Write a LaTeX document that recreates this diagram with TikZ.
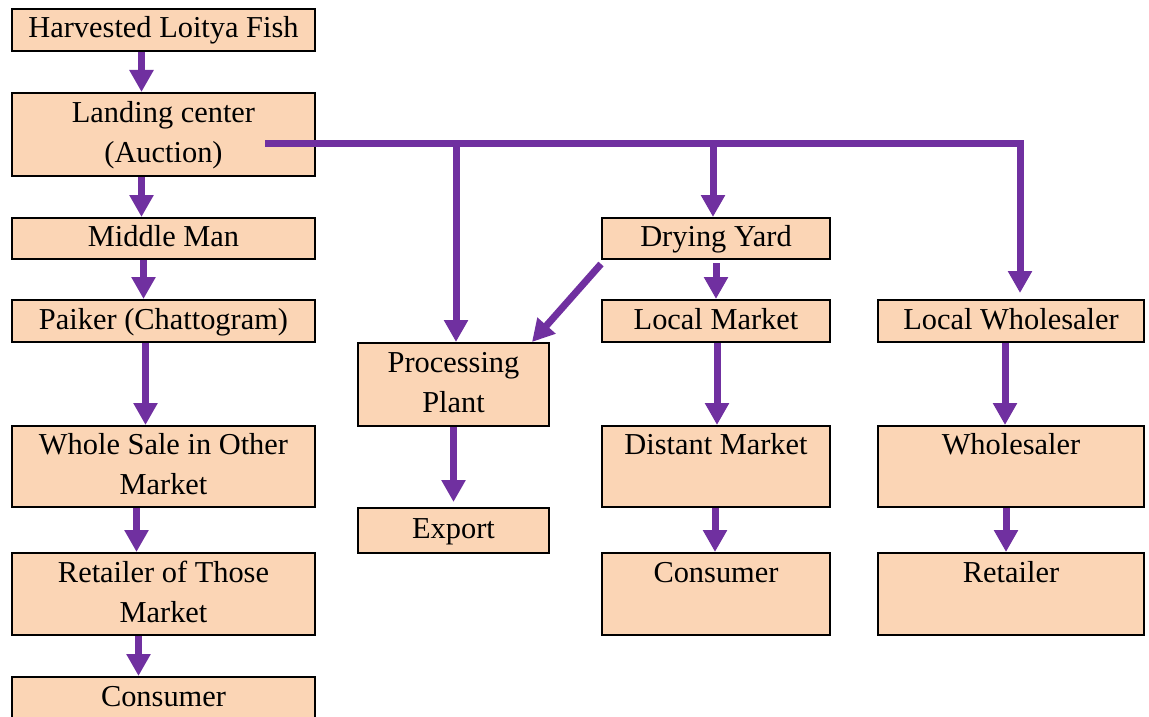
\documentclass[tikz,border=0pt]{standalone}
\usepackage{fontspec}
\setmainfont{Liberation Serif}
\usetikzlibrary{arrows.meta}
\definecolor{boxfill}{HTML}{FBD5B5}
\definecolor{flowpurple}{HTML}{7030A0}
\begin{document}
\begin{tikzpicture}[x=1pt,y=-1pt,
  box/.style={draw=black,line width=2pt,fill=boxfill,anchor=north west,
    inner sep=0pt,align=center,font=\fontsize{30.4}{40}\selectfont},
  colA/.style={minimum width=303pt},
  colB/.style={minimum width=191pt},
  colC/.style={minimum width=228pt},
  colD/.style={minimum width=266pt},
  flow/.style={draw=flowpurple,line width=7pt,
    -{Triangle[width=23pt,length=22pt]}},
  trunk/.style={draw=flowpurple,line width=7pt,line cap=butt}]
\useasboundingbox (0,0) rectangle (1149,717);
\fill[white] (0,0) rectangle (1149,717);

% left column: main chain
\node[box,colA,minimum height=42pt] (h)  at (11,8)   {\strut Harvested Loitya Fish};
\node[box,colA,minimum height=83pt] (l)  at (11,92)  {\strut Landing center\\\strut (Auction)};
\node[box,colA,minimum height=41pt] (mm) at (11,217) {\strut Middle Man};
\node[box,colA,minimum height=42pt] (pk) at (11,299) {\strut Paiker (Chattogram)};
\node[box,colA,minimum height=81pt] (ws) at (11,425) {\strut Whole Sale in Other\\\strut Market};
\node[box,colA,minimum height=82pt] (ro) at (11,552) {\strut Retailer of Those\\\strut Market};
\node[box,colA,minimum height=82pt] (c1) at (11,676) {\strut Consumer\\\strut};

% processing branch
\node[box,colB,minimum height=83pt] (pp) at (357,342) {\strut Processing\\\strut Plant};
\node[box,colB,minimum height=45pt] (ex) at (357,507) {\strut Export};

% drying branch
\node[box,colC,minimum height=41pt] (dy) at (601,217) {\strut Drying Yard};
\node[box,colC,minimum height=42pt] (lm) at (601,299) {\strut Local Market};
\node[box,colC,minimum height=81pt] (dm) at (601,425) {\strut Distant Market\\\strut};
\node[box,colC,minimum height=82pt] (c2) at (601,552) {\strut Consumer\\\strut};

% wholesale branch
\node[box,colD,minimum height=42pt] (lw) at (877,299) {\strut Local Wholesaler};
\node[box,colD,minimum height=81pt] (wh) at (877,425) {\strut Wholesaler\\\strut};
\node[box,colD,minimum height=82pt] (rt) at (877,552) {\strut Retailer\\\strut};

% main chain arrows
\draw[flow] ([xshift=-22pt]h.south)  -- ([xshift=-22pt]l.north);
\draw[flow] ([xshift=-22pt]l.south)  -- ([xshift=-22pt]mm.north);
\draw[flow] ([xshift=-20pt]mm.south) -- ([xshift=-20pt]pk.north);
\draw[flow] ([xshift=-18pt]pk.south) -- ([xshift=-18pt]ws.north);
\draw[flow] ([xshift=-27pt]ws.south) -- ([xshift=-27pt]ro.north);
\draw[flow] ([xshift=-25pt]ro.south) -- ([xshift=-25pt]c1.north);

% distribution trunk out of the landing centre
\coordinate (ts) at (265,143);
\coordinate (tc) at (1020,143);
\coordinate (ppin) at ([xshift=2.5pt]pp.north);
\coordinate (dyin) at ([xshift=-3pt]dy.north);
\draw[trunk] (ts) -- (tc);
\draw[flow,line join=miter,shorten >=6pt] ([xshift=-3.5pt]tc) -- (tc) -- (tc |- lw.north);
\draw[flow] (ts -| ppin) -- (ppin);
\draw[flow] (ts -| dyin) -- (dyin);

% processing and drying arrows
\draw[flow,shorten >=5pt] (pp.south) -- (ex.north);
\draw[flow] ([yshift=-4pt]dy.south west) -- ([xshift=-18pt]pp.north east);
\draw[flow] ([yshift=-3pt]dy.south) -- (lm.north);
\draw[flow] ([xshift=1pt]lm.south) -- ([xshift=1pt]dm.north);
\draw[flow] ([xshift=-1pt]dm.south) -- ([xshift=-1pt]c2.north);

% wholesale arrows
\draw[flow] ([xshift=-6pt]lw.south) -- ([xshift=-6pt]wh.north);
\draw[flow] ([xshift=-5pt]wh.south) -- ([xshift=-5pt]rt.north);
\end{tikzpicture}
\end{document}
